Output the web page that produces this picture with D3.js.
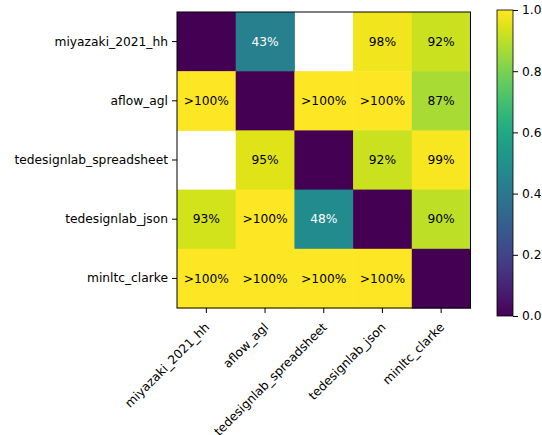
<!DOCTYPE html>
<html>
<head>
<meta charset="utf-8">
<script src="https://cdn.jsdelivr.net/npm/d3@7"></script>
<style>
  body { margin: 0; background: #fff; }
  text { font-family: "DejaVu Sans", sans-serif; }
</style>
</head>
<body>
<div id="viz"></div>
<script>
// datasets (rows = y, cols = x)
var names = ['miyazaki_2021_hh', 'aflow_agl', 'tedesignlab_spreadsheet', 'tedesignlab_json', 'minltc_clarke'];

// ratio values per row; null = missing, >1 shown as ">100%"
var rowMiyazaki = [0, 0.43, null, 0.98, 0.92];
var rowAflow    = [1.2, 0, 1.2, 1.2, 0.87];
var rowSheet    = [null, 0.95, 0, 0.92, 0.99];
var rowJson     = [0.93, 1.2, 0.48, 0, 0.90];
var rowClarke   = [1.2, 1.2, 1.2, 1.2, 0];
var rows = [rowMiyazaki, rowAflow, rowSheet, rowJson, rowClarke];

var cbTicks = [0, 0.2, 0.4, 0.6, 0.8, 1.0];

var W = 542, H = 435;
var fs = 12.25;
var plot = {left: 177, right: 470.5, top: 12, bottom: 308};
var cb = {left: 497, right: 513, top: 10, bottom: 316};

var svg = d3.select('#viz').append('svg')
    .attr('width', W)
    .attr('height', H);

var xScale = d3.scaleBand().domain(names).range([plot.left, plot.right]);
var yScale = d3.scaleBand().domain(names).range([plot.top, plot.bottom]);
var color = d3.scaleSequential(d3.interpolateViridis).domain([0, 1]).clamp(true);

// flatten to cells
var cells = [];
rows.forEach(function(r, i) {
  r.forEach(function(v, j) {
    cells.push({row: names[i], col: names[j], v: v, diag: i === j});
  });
});

svg.append('g').selectAll('rect')
  .data(cells.filter(function(d) { return d.v !== null; }))
  .enter().append('rect')
    .attr('x', function(d) { return xScale(d.col); })
    .attr('y', function(d) { return yScale(d.row); })
    .attr('width', xScale.bandwidth() + 0.5)
    .attr('height', yScale.bandwidth() + 0.5)
    .attr('fill', function(d) { return color(d.v); });

svg.append('g').selectAll('text')
  .data(cells.filter(function(d) { return d.v !== null && !d.diag; }))
  .enter().append('text')
    .attr('x', function(d) { return xScale(d.col) + xScale.bandwidth() / 2; })
    .attr('y', function(d) { return yScale(d.row) + yScale.bandwidth() / 2; })
    .attr('text-anchor', 'middle')
    .attr('dy', '0.35em')
    .attr('font-size', fs)
    .attr('fill', function(d) { return d.v < 0.5 ? '#fff' : '#000'; })
    .text(function(d) { return d.v > 1 ? '>100%' : Math.round(d.v * 100) + '%'; });

// frame
svg.append('rect')
  .attr('x', plot.left).attr('y', plot.top)
  .attr('width', plot.right - plot.left).attr('height', plot.bottom - plot.top)
  .attr('fill', 'none').attr('stroke', '#000').attr('stroke-width', 1);

// axes
var yGuide = svg.append('g')
  .attr('transform', 'translate(' + plot.left + ',0)')
  .call(d3.axisLeft(yScale).tickSize(5).tickPadding(4));

var xGuide = svg.append('g')
  .attr('transform', 'translate(0,' + plot.bottom + ')')
  .call(d3.axisBottom(xScale).tickSize(5).tickPadding(4));

xGuide.selectAll('text')
  .attr('text-anchor', 'end')
  .attr('dy', null)
  .attr('y', null)
  .attr('transform', 'translate(4,20) rotate(-45)');

[xGuide, yGuide].forEach(function(g) {
  g.select('.domain').remove();
  g.selectAll('text').attr('font-size', fs).attr('font-family', '"DejaVu Sans", sans-serif').attr('fill', '#000');
  g.selectAll('line').attr('stroke', '#000');
});

// colorbar
var grad = svg.append('defs').append('linearGradient')
  .attr('id', 'vir')
  .attr('x1', 0).attr('y1', 1).attr('x2', 0).attr('y2', 0);
d3.range(0, 1.0001, 0.05).forEach(function(t) {
  grad.append('stop').attr('offset', t).attr('stop-color', color(t));
});

svg.append('rect')
  .attr('x', cb.left).attr('y', cb.top)
  .attr('width', cb.right - cb.left).attr('height', cb.bottom - cb.top)
  .attr('fill', 'url(#vir)')
  .attr('stroke', '#000').attr('stroke-width', 0.8);

var cbScale = d3.scaleLinear().domain([0, 1]).range([cb.bottom, cb.top]);
var cbAxis = svg.append('g')
  .attr('transform', 'translate(' + cb.right + ',0)')
  .call(d3.axisRight(cbScale).tickValues(cbTicks).tickFormat(d3.format('.1f')).tickSize(5).tickPadding(4));
cbAxis.select('.domain').remove();
cbAxis.selectAll('text').attr('font-size', fs).attr('font-family', '"DejaVu Sans", sans-serif').attr('fill', '#000');
cbAxis.selectAll('line').attr('stroke', '#000');
</script>
</body>
</html>
